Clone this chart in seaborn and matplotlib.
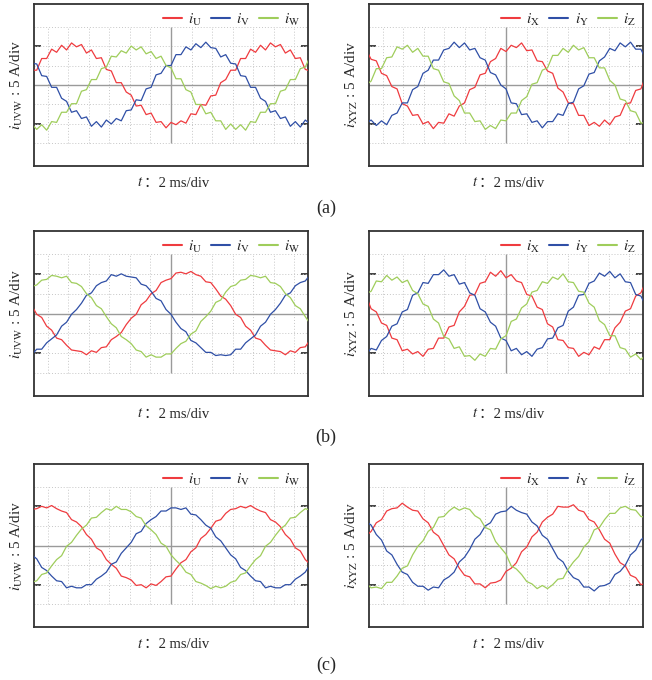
import numpy as np
import pandas as pd
import matplotlib
matplotlib.use("Agg")
import matplotlib.pyplot as plt
import seaborn as sns

# sample times in ms (2 ms/div)
t_left = np.linspace(-6.79, 6.79, 57)
t_right = np.linspace(-6.83, 6.83, 55)

# ---- (a) ----
a_left_U = [1.9,1.9,3.4,3.4,4.6,4.2,5.1,4.5,5.4,4.9, 5.2,4.1,4.5,3.4,3.5,2.0,1.8,0.3,0.3,-0.9,
            -1.3,-2.7,-2.6,-3.8,-3.6,-4.8,-4.7,-5.5,-4.8,-5.1, -4.6,-4.9,-3.7,-3.8,-2.5,-2.6,-1.4,-1.3,0.3,0.7,
            1.9,1.9,3.4,3.4,4.6,4.2,5.1,4.5,5.4,4.9, 5.2,4.1,4.5,3.4,3.5,2.0,1.8]
a_left_V = [2.8,2.7,1.2,1.1,-0.3,-0.3,-1.7,-2.1,-3.5,-3.3, -4.3,-4.1,-5.3,-4.7,-5.4,-4.5,-5.0,-4.3,-4.6,-3.3,
            -3.2,-1.9,-2.0,-0.5,-0.3,1.3,1.5,2.5,2.5,3.9, 3.9,4.9,4.5,5.3,4.8,5.5,4.8,4.7,3.6,3.9,
            2.8,2.7,1.2,1.1,-0.3,-0.3,-1.7,-2.1,-3.5,-3.3, -4.3,-4.1,-5.3,-4.7,-5.4,-4.5,-5.0]
a_left_W = [-5.0,-5.7,-5.1,-5.8,-4.7,-4.8,-3.5,-3.5,-2.4,-2.4, -0.8,-0.6,0.7,0.7,2.1,2.3,3.7,3.6,4.4,4.1,
            5.0,4.5,4.9,4.0,4.3,3.4,3.7,2.5,2.2,0.8, 0.8,-0.6,-0.9,-2.5,-2.5,-3.7,-3.5,-4.6,-4.6,-5.7,
            -5.0,-5.7,-5.1,-5.8,-4.7,-4.8,-3.5,-3.5,-2.4,-2.4, -0.8,-0.6,0.7,0.7,2.1,2.3,3.7]
a_right_X = [4.6,3.3,3.1,1.5,1.2,-0.2,-0.5,-2.4,-2.7,-3.9, -3.8,-5.0,-4.7,-5.6,-4.8,-4.9,-3.7,-4.0,-2.7,-2.3,
             -0.6,-0.3,1.3,1.5,3.0,3.4,4.7,4.3,5.1,4.8, 5.4,4.4,4.5,3.1,3.0,1.8,1.5,-0.4,-0.9,-2.3,
             -2.4,-3.9,-3.9,-5.2,-4.8,-5.3,-4.5,-5.1,-4.1,-3.9, -2.4,-2.3,-0.7,-0.5,1.2]
a_right_Y = [-4.9,-4.5,-5.2,-4.6,-5.1,-3.9,-3.6,-2.3,-2.3,-0.6, -0.2,1.5,1.9,3.2,3.2,4.5,4.7,5.5,4.8,5.4,
             4.5,4.7,3.5,3.2,1.6,1.3,0.0,-0.5,-2.3,-2.4, -3.8,-3.7,-4.8,-4.6,-5.5,-4.7,-4.7,-3.7,-3.9,-2.4,
             -2.2,-0.5,-0.1,1.4,1.6,3.1,3.6,4.7,4.4,5.4, 4.9,5.5,4.6,4.6,3.2]
a_right_Z = [0.0,0.5,2.1,2.1,3.5,3.6,4.9,4.6,5.1,4.2, 4.7,3.7,3.7,2.1,1.9,0.4,0.2,-1.4,-2.0,-3.6,
             -3.6,-4.7,-4.6,-5.7,-5.2,-5.6,-4.5,-4.6,-3.6,-3.6, -2.0,-1.5,0.1,0.3,1.9,2.2,3.8,3.8,4.7,4.2,
             5.1,4.5,4.8,3.5,3.5,2.2,2.2,0.6,0.0,-1.8, -2.0,-3.3,-3.5,-4.9,-4.8]

# ---- (b) ----
b_left_U = [1.0,-0.1,-0.5,-1.6,-2.1,-3.1,-3.3,-4.0,-4.6,-4.7, -4.8,-5.2,-4.7,-4.9,-4.3,-4.2,-3.3,-2.9,-2.4,-1.4,
            -0.6,-0.1,1.1,1.6,2.5,2.9,3.9,4.2,4.4,5.1, 5.2,5.0,5.3,4.9,4.7,4.0,3.9,3.1,2.2,1.8,
            1.0,-0.1,-0.5,-1.6,-2.1,-3.1,-3.3,-4.0,-4.6,-4.7, -4.8,-5.2,-4.7,-4.9,-4.3,-4.2,-3.3]
b_left_V = [-5.2,-4.5,-4.5,-3.7,-3.2,-2.7,-1.6,-1.1,-0.1,0.5, 1.3,2.3,2.6,3.5,3.9,4.1,4.9,4.7,5.0,4.7,
            4.6,4.5,3.7,3.5,2.8,1.9,1.6,0.5,-0.1,-1.1, -1.9,-2.3,-3.4,-3.7,-4.3,-4.9,-4.9,-5.3,-5.2,-5.3,
            -5.2,-4.5,-4.5,-3.7,-3.2,-2.7,-1.6,-1.1,-0.1,0.5, 1.3,2.3,2.6,3.5,3.9,4.1,4.9]
b_left_W = [3.4,3.6,4.2,4.3,4.8,4.7,4.5,4.7,3.9,3.8, 3.4,2.5,2.0,1.0,0.6,-0.4,-1.3,-1.8,-2.9,-3.3,
            -3.8,-4.6,-4.8,-5.5,-5.2,-5.5,-5.5,-5.1,-5.1,-4.4, -3.8,-3.5,-2.6,-2.2,-1.0,-0.4,0.3,1.4,1.7,2.7,
            3.4,3.6,4.2,4.3,4.8,4.7,4.5,4.7,3.9,3.8, 3.4,2.5,2.0,1.0,0.6,-0.4,-1.3]
b_right_X = [2.3,0.6,0.2,-1.2,-1.5,-3.1,-3.3,-4.7,-4.5,-5.1, -4.8,-5.4,-4.5,-4.4,-3.1,-3.1,-1.7,-1.5,0.2,0.9,
             2.3,2.4,3.8,4.0,5.2,4.7,5.4,4.5,4.9,4.1, 3.9,2.4,2.2,0.8,0.5,-1.3,-1.7,-3.3,-3.4,-4.3,
             -4.4,-5.4,-4.9,-5.2,-4.2,-4.5,-3.3,-3.3,-1.8,-1.1, 0.3,0.6,2.2,2.6,4.1]
b_right_Y = [-5.2,-4.4,-4.6,-3.4,-2.9,-1.6,-1.3,0.2,0.5,2.3, 2.6,3.9,3.8,4.9,4.9,5.5,4.7,4.9,3.7,3.9,
             2.6,2.3,0.6,0.2,-1.1,-1.6,-3.1,-3.4,-4.7,-4.4, -5.2,-4.8,-5.4,-4.5,-4.3,-3.2,-3.1,-1.8,-1.5,0.3,
             0.8,2.3,2.4,3.8,4.1,5.1,4.7,5.3,4.5,5.0, 4.0,3.9,2.4,2.2,0.9]
b_right_Z = [2.5,2.8,4.1,4.0,4.8,4.2,4.6,3.9,4.2,2.9, 2.5,1.2,0.9,-0.7,-1.2,-2.9,-3.2,-4.4,-4.2,-5.4,
             -5.3,-5.9,-5.1,-5.4,-4.4,-4.5,-3.2,-2.8,-1.0,-0.7, 0.7,1.2,2.7,2.9,4.0,3.8,4.6,4.3,5.0,4.0,
             3.9,2.8,2.7,1.3,0.8,-0.9,-1.4,-2.8,-2.8,-4.3, -4.5,-5.5,-5.1,-5.8,-5.2]

# ---- (c) ----
c_left_U = [4.6,4.7,5.0,4.8,5.1,4.7,4.4,4.2,3.3,3.0, 2.4,1.4,0.8,-0.3,-0.7,-1.8,-2.4,-2.9,-3.9,-4.1,
            -4.4,-5.1,-5.0,-5.4,-4.9,-5.1,-4.6,-4.0,-3.9,-3.0, -2.2,-1.8,-0.8,-0.3,0.9,1.4,2.2,3.1,3.3,4.1,
            4.6,4.7,5.0,4.8,5.1,4.7,4.4,4.2,3.3,3.0, 2.4,1.4,0.8,-0.3,-0.7,-1.8,-2.4]
c_left_V = [-1.2,-1.7,-2.8,-3.2,-3.9,-4.5,-4.6,-5.4,-5.2,-5.4, -5.4,-5.0,-5.0,-4.3,-3.9,-3.4,-2.4,-2.1,-1.0,-0.3,
            0.4,1.5,1.8,2.8,3.3,3.7,4.4,4.4,4.8,4.8, 4.6,4.8,4.0,3.9,3.3,2.6,2.2,1.1,0.6,-0.3,
            -1.2,-1.7,-2.8,-3.2,-3.9,-4.5,-4.6,-5.4,-5.2,-5.4, -5.4,-5.0,-5.0,-4.3,-3.9,-3.4,-2.4]
c_left_W = [-4.7,-4.5,-3.7,-3.5,-2.6,-1.8,-1.3,-0.1,0.4,1.3, 2.1,2.6,3.5,3.6,4.2,4.7,4.5,5.0,4.6,4.6,
            4.3,3.7,3.5,2.5,2.0,1.4,0.3,-0.1,-1.2,-1.9, -2.5,-3.4,-3.7,-4.6,-4.8,-5.1,-5.5,-5.2,-5.4,-5.2,
            -4.7,-4.5,-3.7,-3.5,-2.6,-1.8,-1.3,-0.1,0.4,1.3, 2.1,2.6,3.5,3.6,4.2,4.7,4.5]
c_right_X = [1.2,1.8,2.9,3.3,4.4,4.7,4.8,5.4,4.9,4.5, 4.4,3.4,2.9,1.7,1.2,0.0,-1.2,-1.7,-2.9,-3.8,
             -4.0,-4.9,-4.9,-5.4,-4.8,-4.7,-4.4,-3.3,-2.9,-2.2, -0.8,-0.2,1.1,1.7,3.0,3.6,4.0,5.0,4.9,4.9,
             5.2,4.5,4.3,3.3,3.0,2.0,0.8,0.3,-1.1,-2.2, -2.6,-3.8,-4.1,-5.0,-4.8]
c_right_Y = [3.1,2.6,1.4,0.7,-0.7,-1.2,-2.4,-3.4,-3.7,-4.7, -5.2,-5.2,-5.7,-5.3,-5.4,-4.4,-4.0,-3.4,-2.1,-1.5,
             -0.5,0.8,1.4,2.5,2.9,4.0,4.3,4.4,5.0,4.5, 4.2,4.0,3.0,2.5,1.3,0.8,-0.4,-1.6,-2.1,-3.3,
             -4.1,-4.4,-5.3,-5.3,-5.8,-5.2,-5.1,-4.8,-3.7,-3.3, -2.5,-1.2,-0.6,0.7,1.3]
c_right_Z = [-4.8,-5.4,-5.3,-5.5,-4.7,-4.7,-3.9,-2.9,-2.6,-1.2, -0.1,0.6,1.8,2.3,3.6,3.7,4.4,4.9,4.5,4.8,
             4.6,3.8,3.4,2.3,2.0,0.5,-0.3,-1.1,-2.6,-3.0, -3.7,-4.6,-4.9,-5.5,-5.1,-5.5,-5.0,-4.3,-4.2,-3.0,
             -2.1,-1.4,-0.2,0.5,2.0,2.3,3.3,4.1,4.1,4.8, 5.0,4.6,4.5,3.7,3.6]

phases_left = ["U", "V", "W"]
phases_right = ["X", "Y", "Z"]
panel_letters = ["(a)", "(b)", "(c)"]
xlabel_var = "$t$"
xlabel_rest = "：2 ms/div"

series = {
    (0, 0): (t_left, [a_left_U, a_left_V, a_left_W]),
    (0, 1): (t_right, [a_right_X, a_right_Y, a_right_Z]),
    (1, 0): (t_left, [b_left_U, b_left_V, b_left_W]),
    (1, 1): (t_right, [b_right_X, b_right_Y, b_right_Z]),
    (2, 0): (t_left, [c_left_U, c_left_V, c_left_W]),
    (2, 1): (t_right, [c_right_X, c_right_Y, c_right_Z]),
}

colors = ["#ef3b3f", "#2f4fa6", "#9fcd5b"]

sns.set_theme(style="white")
plt.rcParams["font.family"] = ["Liberation Serif", "Noto Sans CJK SC"]
plt.rcParams["mathtext.fontset"] = "stix"

W, H = 652, 680
fig = plt.figure(figsize=(W / 100, H / 100), dpi=100)

col_x = [34, 369]
row_y = [(4, 166), (231, 396), (464, 627)]
axw = 274
xlab_y = [183, 414, 644]
letter_y = [208, 437, 665]

for (r, c), (t, vals) in series.items():
    top, bot = row_y[r]
    ax = fig.add_axes([col_x[c] / W, 1 - bot / H, axw / W, (bot - top) / H])
    names = phases_left if c == 0 else phases_right
    labels = [r"$i_{\mathrm{%s}}$" % n for n in names]
    df = pd.DataFrame({
        "t": np.concatenate([t] * 3),
        "i": np.concatenate([np.asarray(v, float) for v in vals]),
        "phase": np.repeat(labels, len(t)),
    })
    # scope grid
    for y in [-7.5, -5, -2.5, 2.5, 5, 7.5]:
        ax.axhline(y, color="#c6c6c6", lw=0.7, ls=(0, (1, 2)), zorder=1)
    for x in range(-6, 7):
        if x != 0:
            ax.vlines(x, -7.5, 7.5, color="#c6c6c6", lw=0.7, ls=(0, (1, 2)), zorder=1)
    ax.axhline(0, color="#9a9a9a", lw=1.0, zorder=2)
    ax.vlines(0, -7.5, 7.5, color="#9a9a9a", lw=1.0, zorder=2)

    sns.lineplot(data=df, x="t", y="i", hue="phase", hue_order=labels,
                 palette=dict(zip(labels, colors)), estimator=None, sort=False,
                 lw=0.9, ax=ax, zorder=3)
    h, l = ax.get_legend_handles_labels()
    leg = ax.legend(h, l, loc="upper right", ncol=3, frameon=False, fontsize=11,
                    handlelength=1.25, handletextpad=0.4, columnspacing=0.6,
                    borderaxespad=0.1, bbox_to_anchor=(1.0, 1.0))
    for ln in leg.get_lines():
        ln.set_linewidth(1.5)

    ax.set_xlim(-6.68, 6.68)
    ax.set_ylim(-10.4, 10.4)
    ax.set_xticks([])
    ax.set_yticks([-5, 5])
    ax.set_yticklabels([])
    ax.tick_params(axis="y", direction="in", length=5, width=1.2, colors="#222222",
                   left=True, right=True)
    for s in ax.spines.values():
        s.set_color("#333333")
        s.set_linewidth(1.3)
    ax.set_xlabel("")
    ax.set_ylabel(r"$i_{\mathrm{%s}}$ : 5 A/div" % "".join(names), fontsize=11, labelpad=3)
    cx = col_x[c] + axw / 2
    fig.text((cx - 28) / W, 1 - xlab_y[r] / H, xlabel_var,
             ha="right", va="center", fontsize=10.5)
    fig.text((cx - 27) / W, 1 - xlab_y[r] / H, xlabel_rest,
             ha="left", va="center", fontsize=10.5,
             family=["Liberation Serif", "Noto Sans CJK SC"])

for r in range(3):
    fig.text(0.5, 1 - letter_y[r] / H, panel_letters[r], ha="center", va="center", fontsize=13)

fig.savefig("out.png", dpi=100)
